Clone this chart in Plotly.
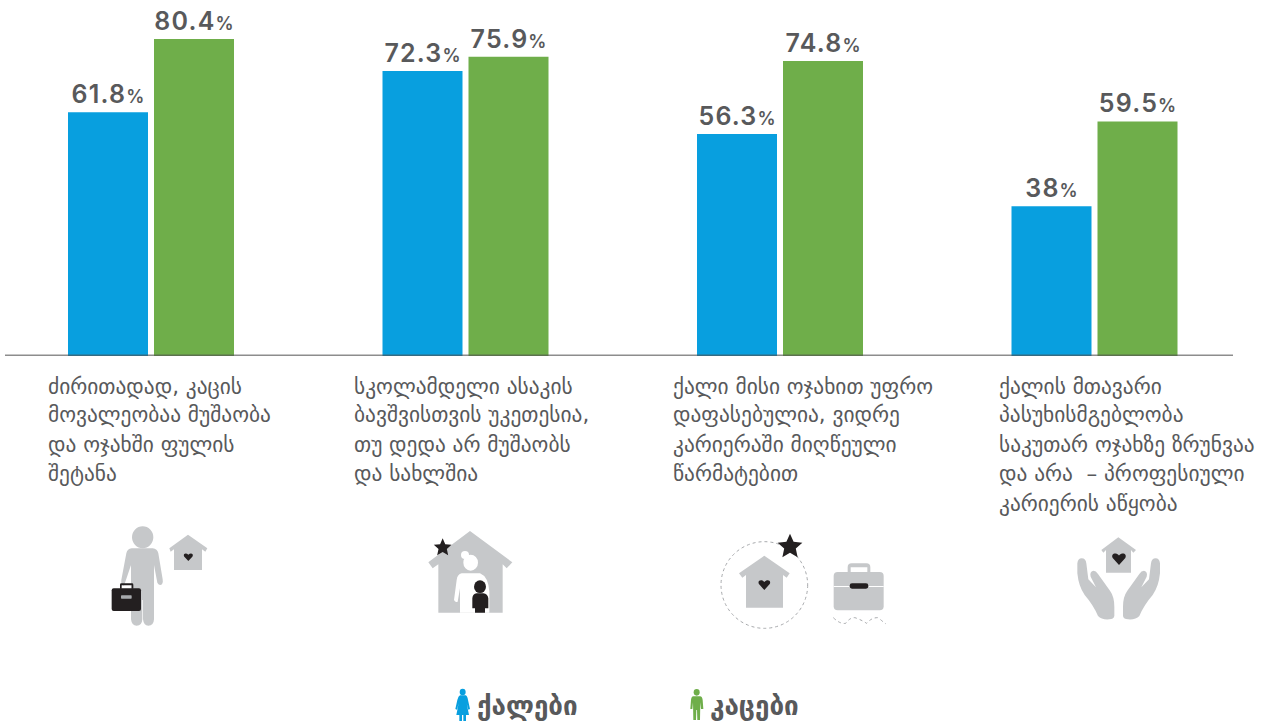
import math, re
import plotly.graph_objects as go

# ---------- data ----------
statement_lines = [
    ["ძირითადად, კაცის", "მოვალეობაა მუშაობა", "და ოჯახში ფულის", "შეტანა"],
    ["სკოლამდელი ასაკის", "ბავშვისთვის უკეთესია,", "თუ დედა არ მუშაობს", "და სახლშია"],
    ["ქალი მისი ოჯახით უფრო", "დაფასებულია, ვიდრე", "კარიერაში მიღწეული", "წარმატებით"],
    ["ქალის მთავარი", "პასუხისმგებლობა", "საკუთარ ოჯახზე ზრუნვაა", "და არა  – პროფესიული", "კარიერის აწყობა"],
]
categories = [" ".join(l) for l in statement_lines]
women = [61.8, 72.3, 56.3, 38]
men = [80.4, 75.9, 74.8, 59.5]
women_name = "ქალები"
men_name = "კაცები"

# ---------- style ----------
BLUE = "#089fdf"
GREEN = "#6fae4a"
TEXT = "#58595b"
GRAY = "#c6c8ca"
BLACK = "#231f20"
W, H = 1268, 722
LEFT, RIGHT, BASE = 5, 1233, 356
BAND = 314.5
FIRST = 151
PXPERUNIT = 3.943

def px(x):
    return (x - LEFT) / (RIGHT - LEFT)

def py(y):
    return (BASE - y) / BASE

def tr(path, ox, oy, s=1/3):
    """Convert a path given in crop pixels to paper coordinates."""
    out, n = [], 0
    for tok in re.findall(r"[MLCQZ]|-?[\d.]+", path):
        if tok in "MLCQZ":
            out.append(tok)
        else:
            v = float(tok)
            out.append(f"{px(ox + v * s):.5f}" if n % 2 == 0 else f"{py(oy + v * s):.5f}")
            n += 1
    return " ".join(out)

shapes = []
def fill(path, ox, oy, color=GRAY, s=1/3):
    shapes.append(dict(type="path", path=tr(path, ox, oy, s), xref="paper", yref="paper",
                       fillcolor=color, line=dict(width=0), layer="above"))

def circle(cx, cy, rx, ry, ox, oy, color=GRAY, s=1/3):
    shapes.append(dict(type="circle", xref="paper", yref="paper",
                       x0=px(ox + (cx - rx) * s), x1=px(ox + (cx + rx) * s),
                       y0=py(oy + (cy + ry) * s), y1=py(oy + (cy - ry) * s),
                       fillcolor=color, line=dict(width=0), layer="above"))

def star(cx, cy, r, ox, oy):
    pts = []
    for i in range(10):
        a = -math.pi / 2 + i * math.pi / 5
        rr = r if i % 2 == 0 else r * 0.47
        pts.append(f"{cx + rr * math.cos(a):.1f} {cy + rr * math.sin(a):.1f}")
    fill("M " + " L ".join(pts) + " Z", ox, oy, BLACK)

def heart(cx, cy, w, ox, oy):
    k = w / 2
    d = (f"M {cx} {cy + k*0.95} L {cx - k*0.9} {cy - k*0.05} "
         f"C {cx - k*1.2} {cy - k*0.6} {cx - k*0.5} {cy - k*0.95} {cx} {cy - k*0.4} "
         f"C {cx + k*0.5} {cy - k*0.95} {cx + k*1.2} {cy - k*0.6} {cx + k*0.9} {cy - k*0.05} Z")
    fill(d, ox, oy, BLACK)

def rrect(x0, y0, x1, y1, r):
    return (f"M {x0+r} {y0} L {x1-r} {y0} Q {x1} {y0} {x1} {y0+r} L {x1} {y1-r} Q {x1} {y1} {x1-r} {y1} "
            f"L {x0+r} {y1} Q {x0} {y1} {x0} {y1-r} L {x0} {y0+r} Q {x0} {y0} {x0+r} {y0} Z")

# --- baseline, drawn over the bars as in the reference
shapes.append(dict(type="line", xref="paper", yref="paper", x0=0, x1=1, y0=py(355.3), y1=py(355.3),
                   line=dict(color="rgba(80,80,80,0.65)", width=1.5), layer="above"))

# --- icon 1: man, briefcase, house
o1 = (100, 520)
circle(128, 52, 32, 33, *o1)
fill("M 95 85 Q 82 86 79 100 L 64 180 Q 62 195 72 197 L 93 135 L 93 298 Q 95 317 110 317 Q 126 317 127 298 "
     "L 127 240 L 129 240 L 129 298 Q 131 317 145 317 Q 161 317 162 298 L 162 135 L 172 188 Q 178 199 186 193 "
     "Q 190 188 188 178 L 175 100 Q 172 86 158 85 Z", *o1)
fill("M 208 85 L 264 44 L 322 85 L 316 95 L 306 88 L 306 150 L 222 150 L 222 88 L 212 95 Z", *o1)
heart(265, 110, 28, *o1)
fill("M 60 206 L 60 194 Q 60 190 64 190 L 96 190 Q 100 190 100 194 L 100 206 L 95 206 L 95 196 L 65 196 L 65 206 Z", *o1, BLACK)
fill(rrect(35, 205, 123, 273, 6), *o1, BLACK)
fill(rrect(63, 226, 95, 236, 2), *o1, "#a7a9ac")

# --- icon 2: house with woman and child
o2 = (420, 525)
fill("M 25 112 L 150 18 L 277 112 L 260 130 L 248 118 L 248 263 L 55 263 L 55 118 L 38 130 Z", *o2)
circle(135, 90, 12, 12, *o2, color="#ffffff")
circle(152, 113, 22, 24, *o2, color="#ffffff")
fill("M 125 145 Q 112 148 110 165 L 102 225 Q 106 233 113 230 L 120 190 L 120 263 L 208 263 L 208 200 "
     "Q 205 155 180 145 Z", *o2, "#ffffff")
circle(180, 185, 18, 19, *o2, color=BLACK)
fill("M 170 205 Q 158 207 157 220 L 157 250 L 165 250 L 165 263 L 195 263 L 195 250 L 205 250 L 205 220 Q 203 207 190 205 Z",
     *o2, BLACK)
star(68, 68, 28, *o2)

# --- icon 3: house in dotted circle, star, briefcase
o3 = (715, 530)
shapes.append(dict(type="circle", xref="paper", yref="paper", layer="above",
                   x0=px(o3[0] + 18/3), x1=px(o3[0] + 278/3), y0=py(o3[1] + 295/3), y1=py(o3[1] + 35/3),
                   line=dict(color="#a7a9ac", width=1, dash="dot")))
fill("M 72 130 L 148 77 L 224 130 L 215 143 L 204 135 L 204 233 L 93 233 L 93 135 L 82 143 Z", *o3)
heart(148, 163, 36, *o3)
star(225, 50, 39, *o3)
fill("M 398 128 L 398 112 Q 398 100 410 100 L 454 100 Q 466 100 466 112 L 466 128 L 457 128 L 457 112 L 407 112 L 407 128 Z", *o3)
fill(rrect(356, 126, 506, 241, 12), *o3)
fill("M 356 168 L 506 168 L 506 171 L 356 171 Z", *o3, "#ffffff")
fill(rrect(404, 160, 460, 176, 7), *o3, BLACK)
shapes.append(dict(type="path", xref="paper", yref="paper", layer="above",
                   path=tr("M 355 263 Q 375 283 392 280 Q 405 262 420 263 Q 440 270 455 280 Q 470 262 490 263 Q 503 275 512 281", *o3),
                   line=dict(color="#a7a9ac", width=1, dash="dot")))

# --- icon 4: hands and house
o4 = (1070, 530)
fill("M 94 60 L 145 22 L 198 60 L 190 68 L 183 60 L 183 128 L 108 128 L 108 60 L 100 68 Z", *o4)
heart(147, 85, 42, *o4)
left_hand = ("M 22 100 Q 24 85 35 85 Q 47 85 49 100 L 55 148 L 78 172 L 62 140 Q 58 125 70 122 Q 78 122 84 132 "
             "L 120 182 Q 133 200 133 230 L 133 258 Q 131 268 118 268 Q 95 270 84 258 Q 70 225 44 195 Q 26 170 22 130 Z")
fill(left_hand, *o4)
num = re.compile(r"(-?[\d.]+) (-?[\d.]+)")
fill(num.sub(lambda m: f"{292 - float(m.group(1))} {m.group(2)}", left_hand), *o4)

# --- legend figures
o5 = (450, 685)
circle(38, 21, 9, 10, *o5, color=BLUE)
fill("M 30 31 L 47 31 Q 52 33 54 45 L 60 72 L 55 74 L 50 55 L 57 90 L 48 90 L 48 108 L 40 108 L 40 90 L 36 90 L 36 108 L 28 108 "
     "L 28 90 L 19 90 L 26 55 L 21 74 L 16 72 L 22 45 Q 25 33 30 31 Z", *o5, BLUE)
o6 = (680, 685)
circle(50, 22, 9, 10, *o6, color=GREEN)
fill("M 40 34 L 60 34 Q 67 35 68 45 L 70 72 L 63 72 L 61 52 L 60 105 L 52 105 L 51 75 L 49 75 L 48 105 L 40 105 L 39 52 L 37 72 L 31 72 "
     "L 33 45 Q 34 35 40 34 Z", *o6, GREEN)

# ---------- annotations ----------
label_x = [47, 353, 672, 998]
line_y = [386, 415, 444, 473, 503]
annotations = []
for lines, lx in zip(statement_lines, label_x):
    for ln, ly in zip(lines, line_y):
        annotations.append(dict(text=ln, xref="paper", yref="paper", x=px(lx), y=py(ly),
                                xanchor="left", yanchor="middle", showarrow=False, borderpad=0,
                                font=dict(family="DejaVu Sans", size=21.4, color=TEXT)))
for name, lx in ((women_name, 476), (men_name, 709)):
    annotations.append(dict(text=f"<b>{name}</b>", xref="paper", yref="paper", x=px(lx), y=py(706),
                            xanchor="left", yanchor="middle", showarrow=False, borderpad=0,
                            font=dict(family="DejaVu Sans", size=26, color=TEXT)))

def labels(vals):
    return [f"<span style='letter-spacing:1.2px'>{v}</span><span style='font-size:18px'>%</span>" for v in vals]

fig = go.Figure()
for name, vals, color, off in ((women_name, women, BLUE, -83), (men_name, men, GREEN, 3)):
    fig.add_trace(go.Bar(
        x=categories, y=vals, name=name, marker=dict(color=color, line=dict(width=0)),
        width=80 / BAND, offset=off / BAND,
        text=labels(vals), textposition="outside", constraintext="none", cliponaxis=False,
        textfont=dict(family="Inter", size=25, color=TEXT, weight=600),
    ))

fig.update_layout(
    width=W, height=H, autosize=False, showlegend=False, barmode="overlay",
    paper_bgcolor="#ffffff", plot_bgcolor="#ffffff",
    margin=dict(l=LEFT, r=W - RIGHT, t=0, b=H - BASE, pad=0),
    xaxis=dict(type="category", categoryorder="array", categoryarray=categories,
               range=[(LEFT - FIRST) / BAND, (RIGHT - FIRST) / BAND],
               showgrid=False, zeroline=False, showticklabels=False, ticks="", showline=False),
    yaxis=dict(range=[0, BASE / PXPERUNIT], visible=False),
    shapes=shapes, annotations=annotations,
)
fig.write_html("out.html", config=dict(displayModeBar=False),
               post_script="document.body.style.margin='0';document.body.style.overflow='hidden';")
